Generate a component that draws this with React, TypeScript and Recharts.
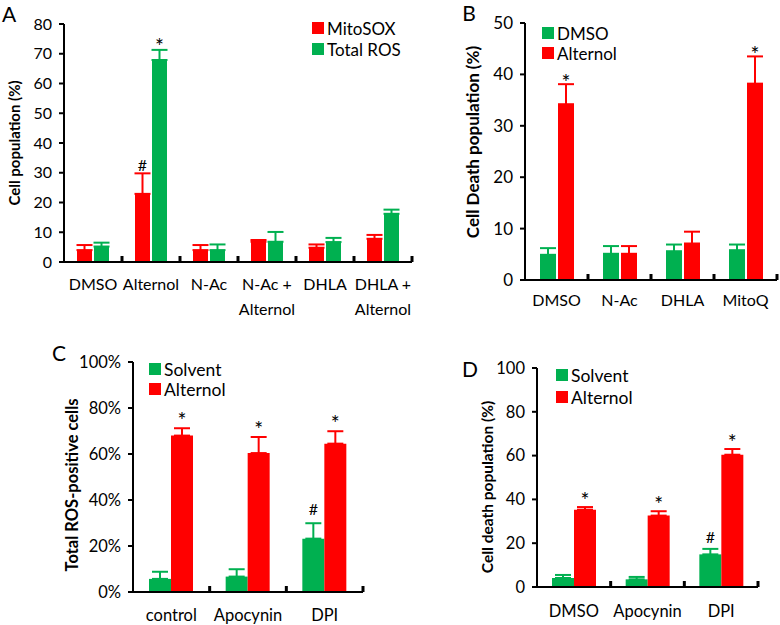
import { Bar, BarChart, ErrorBar, LabelList, Legend, XAxis, YAxis } from "recharts"

const RED = "#FF0000"
const GREEN = "#00B050"
const FONT = "Lato, 'Noto Sans', sans-serif"

// Panel A: ROS measured by MitoSOX vs total ROS
const catsA = ["DMSO", "Alternol", "N-Ac", "N-Ac +\nAlternol", "DHLA", "DHLA +\nAlternol"]
const mitoSox = [4.0, 22.9, 4.0, 6.8, 4.8, 7.8]
const mitoSoxErr = [1.7, 6.9, 1.7, 0.6, 1.1, 1.3]
const mitoSoxMark = ["", "#", "", "", "", ""]
const totalRos = [5.2, 67.9, 4.0, 6.8, 6.7, 16.2]
const totalRosErr = [1.3, 3.4, 1.9, 3.3, 1.4, 1.4]
const totalRosMark = ["", "*", "", "", "", ""]
const ticksA = [0, 10, 20, 30, 40, 50, 60, 70, 80]

// Panel B: cell death with antioxidants
const catsB = ["DMSO", "N-Ac", "DHLA", "MitoQ"]
const dmsoB = [4.9, 5.1, 5.6, 5.8]
const dmsoBErr = [1.3, 1.5, 1.3, 1.1]
const dmsoBMark = ["", "", "", ""]
const alternolB = [34.2, 5.1, 7.1, 38.2]
const alternolBErr = [3.9, 1.5, 2.3, 5.3]
const alternolBMark = ["*", "", "", "*"]
const ticksB = [0, 10, 20, 30, 40, 50]

// Panel C: total ROS-positive cells (%)
const catsC = ["control", "Apocynin", "DPI"]
const solventC = [5.7, 6.7, 23.2]
const solventCErr = [3.1, 3.2, 6.7]
const solventCMark = ["", "", "#"]
const alternolC = [68.0, 60.4, 64.5]
const alternolCErr = [3.2, 7.0, 5.4]
const alternolCMark = ["*", "*", "*"]
const ticksC = [0, 20, 40, 60, 80, 100]

// Panel D: cell death with NOX inhibitors
const catsD = ["DMSO", "Apocynin", "DPI"]
const solventD = [4.1, 3.5, 14.9]
const solventDErr = [1.4, 1.1, 2.5]
const solventDMark = ["", "", "#"]
const alternolD = [35.3, 32.6, 60.4]
const alternolDErr = [1.2, 2.0, 2.6]
const alternolDMark = ["*", "*", "*"]
const ticksD = [0, 20, 40, 60, 80, 100]

type Series = { name: string; color: string; values: number[]; errors: number[]; marks: string[] }

type Box = { left: number; top: number; width: number; height: number }
type Plot = { left: number; top: number; right: number; bottom: number }

interface PanelProps {
  box: Box
  plot: Plot
  cats: string[]
  series: Series[]
  ticks: number[]
  suffix?: string
  tickFont: number
  catFont: number
  catDy: number
  catLineH?: number
  barSize: number
  barGap: number
  title: string
  titleFont: number
  titleX: number
  titleY: number
  letter: string
  letterX: number
  letterY: number
  legendX: number
  legendY: number
  legendPitch: number
  legendFont: number
  starGap: number
  hashGap: number
}

function Panel(p: PanelProps) {
  const { box, plot } = p
  const rows = p.cats.map((cat, i) => {
    const row: Record<string, unknown> = { cat }
    p.series.forEach((s, k) => {
      row[`v${k}`] = s.values[i]
      row[`e${k}`] = [0, s.errors[i]]
      row[`m${k}`] = s.marks[i]
    })
    return row
  })
  const yAxisW = plot.left - box.left
  const xAxisH = 50
  const margin = {
    top: plot.top - box.top,
    right: box.left + box.width - plot.right,
    left: 0,
    bottom: box.top + box.height - plot.bottom - xAxisH,
  }
  const band = (plot.right - plot.left) / p.cats.length
  const lineH = p.catLineH ?? 24

  const catTick = (props: any) => {
    const { x, y, payload } = props
    const lines = String(payload.value).split("\n")
    return (
      <g>
        <line x1={x + band / 2} x2={x + band / 2} y1={y} y2={y - 6} stroke="#000" strokeWidth={3} />
        {lines.map((l, i) => (
          <text
            key={i}
            x={x}
            y={y + p.catDy + i * lineH}
            textAnchor="middle"
            dominantBaseline="central"
            fontFamily={FONT}
            fontSize={p.catFont}
            fill="#000"
          >
            {l}
          </text>
        ))}
      </g>
    )
  }

  const markContent = (s: Series) => (props: any) => {
    const { index } = props
    const m = s.marks[index]
    if (!m) return null
    const vb = props.viewBox && props.viewBox.width != null ? props.viewBox : props
    const { x, y, width, height } = vb
    const perUnit = height / s.values[index]
    const errTop = y - s.errors[index] * perUnit
    const star = m === "*"
    const baseline = star ? errTop - p.starGap + 11 : errTop - p.hashGap + 6
    return (
      <text x={x + width / 2} y={baseline} textAnchor="middle" fontFamily={FONT} fontSize={star ? 21 : 16} fill="#000">
        {m}
      </text>
    )
  }

  const axisLabel = () => (
    <g>
      <text
        transform={`translate(${p.titleX - box.left}, ${p.titleY - box.top}) rotate(-90)`}
        textAnchor="middle"
        dominantBaseline="central"
        fontFamily={FONT}
        fontWeight="bold"
        fontSize={p.titleFont}
        fill="#000"
      >
        {p.title}
      </text>
      <text
        x={p.letterX - box.left}
        y={p.letterY - box.top}
        textAnchor="middle"
        dominantBaseline="central"
        fontFamily={FONT}
        fontSize={21}
        fill="#000"
      >
        {p.letter}
      </text>
    </g>
  )

  // legend keeps the series order (not alphabetical)
  const legendContent = () => (
    <div style={{ fontFamily: FONT, fontSize: p.legendFont, color: "#000" }}>
      {p.series.map((s) => (
        <div key={s.name} style={{ display: "flex", alignItems: "center", height: p.legendPitch, whiteSpace: "nowrap" }}>
          <span style={{ display: "inline-block", width: 12, height: 12, background: s.color, marginRight: 3 }} />
          <span>{s.name}</span>
        </div>
      ))}
    </div>
  )

  return (
    <div style={{ position: "absolute", left: box.left, top: box.top, width: box.width, height: box.height }}>
      <BarChart width={box.width} height={box.height} data={rows} margin={margin} barGap={p.barGap}>
        <XAxis
          dataKey="cat"
          interval={0}
          height={xAxisH}
          tickLine={false}
          tickSize={0}
          tickMargin={0}
          axisLine={{ stroke: "#000", strokeWidth: 2 }}
          tick={catTick}
        />
        <YAxis
          width={yAxisW}
          domain={[p.ticks[0], p.ticks[p.ticks.length - 1]]}
          ticks={p.ticks}
          interval={0}
          allowDataOverflow
          tickFormatter={(v: number) => `${v}${p.suffix ?? ""}`}
          tick={{ fill: "#000", fontSize: p.tickFont, fontFamily: FONT }}
          tickSize={5}
          tickMargin={7}
          axisLine={{ stroke: "#000", strokeWidth: 2 }}
          tickLine={{ stroke: "#000", strokeWidth: 2 }}
          label={axisLabel}
        />
        <Legend
          layout="vertical"
          align="center"
          verticalAlign="middle"
          wrapperStyle={{
            left: p.legendX - box.left,
            top: p.legendY - box.top - p.legendPitch / 2,
            width: "auto",
          }}
          content={legendContent}
        />
        {p.series.map((s, k) => (
          <Bar key={s.name} dataKey={`v${k}`} name={s.name} fill={s.color} barSize={p.barSize} isAnimationActive={false}>
            <ErrorBar dataKey={`e${k}`} direction="y" width={8} strokeWidth={2} stroke={s.color} />
            <LabelList dataKey={`m${k}`} content={markContent(s)} />
          </Bar>
        ))}
      </BarChart>
    </div>
  )
}

export default function App() {
  return (
    <div style={{ position: "absolute", left: 0, top: 0, width: 780, height: 625, background: "#fff" }}>
      <Panel
        box={{ left: 0, top: 0, width: 430, height: 320 }}
        plot={{ left: 64, top: 24, right: 412, bottom: 262 }}
        cats={catsA}
        series={[
          { name: "MitoSOX", color: RED, values: mitoSox, errors: mitoSoxErr, marks: mitoSoxMark },
          { name: "Total ROS", color: GREEN, values: totalRos, errors: totalRosErr, marks: totalRosMark },
        ]}
        ticks={ticksA}
        tickFont={16}
        catFont={16}
        catDy={21}
        catLineH={25}
        barSize={15}
        barGap={2}
        title="Cell population (%)"
        titleFont={15}
        titleX={14}
        titleY={143}
        letter="A"
        letterX={9}
        letterY={13}
        legendX={312}
        legendY={28}
        legendPitch={21}
        legendFont={17}
        starGap={7}
        hashGap={8}
      />
      <Panel
        box={{ left: 440, top: 0, width: 340, height: 320 }}
        plot={{ left: 525, top: 23, right: 777, bottom: 280 }}
        cats={catsB}
        series={[
          { name: "DMSO", color: GREEN, values: dmsoB, errors: dmsoBErr, marks: dmsoBMark },
          { name: "Alternol", color: RED, values: alternolB, errors: alternolBErr, marks: alternolBMark },
        ]}
        ticks={ticksB}
        tickFont={17}
        catFont={16}
        catDy={19}
        barSize={16}
        barGap={2}
        title="Cell Death population (%)"
        titleFont={17}
        titleX={472}
        titleY={142}
        letter="B"
        letterX={469}
        letterY={12}
        legendX={542}
        legendY={33}
        legendPitch={20}
        legendFont={17}
        starGap={5}
        hashGap={8}
      />
      <Panel
        box={{ left: 0, top: 320, width: 420, height: 305 }}
        plot={{ left: 133, top: 362, right: 363, bottom: 592 }}
        cats={catsC}
        series={[
          { name: "Solvent", color: GREEN, values: solventC, errors: solventCErr, marks: solventCMark },
          { name: "Alternol", color: RED, values: alternolC, errors: alternolCErr, marks: alternolCMark },
        ]}
        ticks={ticksC}
        suffix="%"
        tickFont={16.5}
        catFont={16.5}
        catDy={23}
        barSize={22}
        barGap={0}
        title="Total ROS-positive cells"
        titleFont={16.5}
        titleX={72}
        titleY={485}
        letter="C"
        letterX={59}
        letterY={352}
        legendX={149}
        legendY={369}
        legendPitch={20}
        legendFont={17.5}
        starGap={11}
        hashGap={14}
      />
      <Panel
        box={{ left: 440, top: 320, width: 340, height: 305 }}
        plot={{ left: 537, top: 368, right: 758, bottom: 587 }}
        cats={catsD}
        series={[
          { name: "Solvent", color: GREEN, values: solventD, errors: solventDErr, marks: solventDMark },
          { name: "Alternol", color: RED, values: alternolD, errors: alternolDErr, marks: alternolDMark },
        ]}
        ticks={ticksD}
        tickFont={16.5}
        catFont={16.5}
        catDy={24}
        barSize={22}
        barGap={0}
        title="Cell death population (%)"
        titleFont={15.5}
        titleX={487}
        titleY={487}
        letter="D"
        letterX={470}
        letterY={368}
        legendX={556}
        legendY={375}
        legendPitch={22}
        legendFont={17.5}
        starGap={10}
        hashGap={12}
      />
    </div>
  )
}
